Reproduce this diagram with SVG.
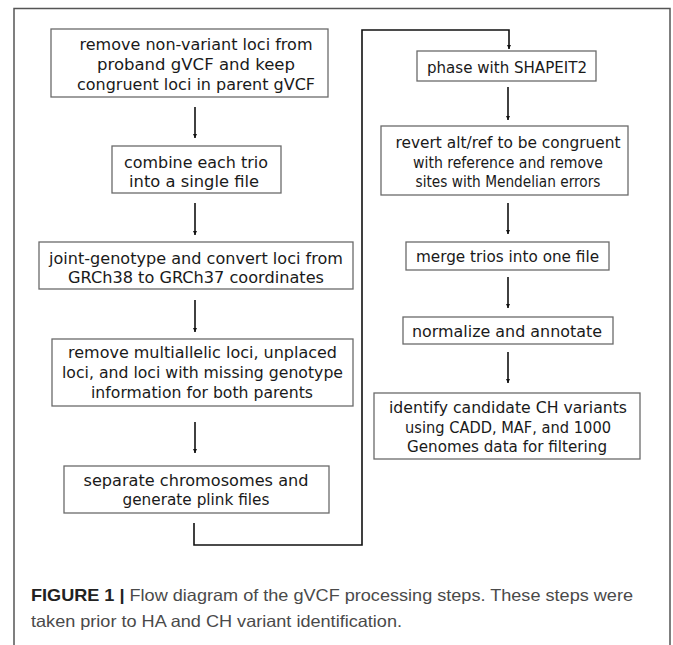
<svg xmlns="http://www.w3.org/2000/svg" width="673" height="645" viewBox="0 0 673 645">
<style>
.box{fill:#fff;stroke:#6a6a6a;stroke-width:1.3}
.t{font-family:"DejaVu Sans",sans-serif;font-size:15px;fill:#1a1a1a;text-anchor:middle}
.arr{stroke:#111;stroke-width:1.6;fill:none}
.cap{font-family:"Liberation Sans",Arial,sans-serif;font-size:16.5px;fill:#4a4a4a}
</style>
<defs>
<marker id="ah" viewBox="0 0 10 10" refX="10" refY="5" markerWidth="4" markerHeight="4" markerUnits="userSpaceOnUse" orient="auto">
<path d="M0,0 L10,5 L0,10 z" fill="#111"/>
</marker>
</defs>
<rect x="0" y="0" width="673" height="645" fill="#fff"/>
<path d="M14,645 V8.5 H670 V645" fill="none" stroke="#555" stroke-width="1.5"/>

<g id="n1"><rect class="box" x="51" y="29" width="277" height="68"/>
<text class="t" x="196" y="50" textLength="233" lengthAdjust="spacingAndGlyphs">remove non-variant loci from</text>
<text class="t" x="196" y="70" textLength="198" lengthAdjust="spacingAndGlyphs">proband gVCF and keep</text>
<text class="t" x="196" y="90" textLength="238" lengthAdjust="spacingAndGlyphs">congruent loci in parent gVCF</text></g>

<g id="n2"><rect class="box" x="112" y="146" width="169" height="47"/>
<text class="t" x="196" y="168" textLength="144" lengthAdjust="spacingAndGlyphs">combine each trio</text>
<text class="t" x="194" y="187" textLength="130" lengthAdjust="spacingAndGlyphs">into a single file</text></g>

<g id="n3"><rect class="box" x="39" y="242" width="314" height="47"/>
<text class="t" x="196" y="264" textLength="294" lengthAdjust="spacingAndGlyphs">joint-genotype and convert loci from</text>
<text class="t" x="196" y="283" textLength="256" lengthAdjust="spacingAndGlyphs">GRCh38 to GRCh37 coordinates</text></g>

<g id="n4"><rect class="box" x="52" y="339" width="301" height="67"/>
<text class="t" x="202.5" y="358" textLength="269" lengthAdjust="spacingAndGlyphs">remove multiallelic loci, unplaced</text>
<text class="t" x="202.5" y="378" textLength="281" lengthAdjust="spacingAndGlyphs">loci, and loci with missing genotype</text>
<text class="t" x="202" y="398" textLength="222" lengthAdjust="spacingAndGlyphs">information for both parents</text></g>

<g id="n5"><rect class="box" x="64" y="466" width="265" height="47"/>
<text class="t" x="196" y="486" textLength="225" lengthAdjust="spacingAndGlyphs">separate chromosomes and</text>
<text class="t" x="196" y="505" textLength="147" lengthAdjust="spacingAndGlyphs">generate plink files</text></g>

<g id="n6"><rect class="box" x="417" y="51" width="179" height="30"/>
<text class="t" x="507" y="73" textLength="160" lengthAdjust="spacingAndGlyphs">phase with SHAPEIT2</text></g>

<g id="n7"><rect class="box" x="381" y="126" width="247" height="69"/>
<text class="t" x="508" y="148" textLength="225" lengthAdjust="spacingAndGlyphs">revert alt/ref to be congruent</text>
<text class="t" x="508" y="168" textLength="190" lengthAdjust="spacingAndGlyphs">with reference and remove</text>
<text class="t" x="508" y="187" textLength="185" lengthAdjust="spacingAndGlyphs">sites with Mendelian errors</text></g>

<g id="n8"><rect class="box" x="406" y="242" width="203" height="28"/>
<text class="t" x="507.5" y="262" textLength="183" lengthAdjust="spacingAndGlyphs">merge trios into one file</text></g>

<g id="n9"><rect class="box" x="403" y="317" width="210" height="27"/>
<text class="t" x="507" y="337" textLength="190" lengthAdjust="spacingAndGlyphs">normalize and annotate</text></g>

<g id="n10"><rect class="box" x="374" y="393" width="266" height="66"/>
<text class="t" x="508" y="413" textLength="238" lengthAdjust="spacingAndGlyphs">identify candidate CH variants</text>
<text class="t" x="508" y="433" textLength="206" lengthAdjust="spacingAndGlyphs">using CADD, MAF, and 1000</text>
<text class="t" x="507" y="452" textLength="200" lengthAdjust="spacingAndGlyphs">Genomes data for filtering</text></g>

<g id="connectors">
<line class="arr" x1="195" y1="107" x2="195" y2="138" marker-end="url(#ah)"/>
<line class="arr" x1="195" y1="203" x2="195" y2="235" marker-end="url(#ah)"/>
<line class="arr" x1="195" y1="300" x2="195" y2="332" marker-end="url(#ah)"/>
<line class="arr" x1="195" y1="422" x2="195" y2="453" marker-end="url(#ah)"/>
<path class="arr" d="M194,523 V545 H362 V30 H509 V49" stroke-width="2.2" marker-end="url(#ah)"/>
<line class="arr" x1="508" y1="87" x2="508" y2="120" marker-end="url(#ah)"/>
<line class="arr" x1="508" y1="203" x2="508" y2="234" marker-end="url(#ah)"/>
<line class="arr" x1="508" y1="277" x2="508" y2="308" marker-end="url(#ah)"/>
<line class="arr" x1="508" y1="352" x2="508" y2="383" marker-end="url(#ah)"/>
</g>

<text class="cap" x="31" y="601" textLength="602" lengthAdjust="spacingAndGlyphs"><tspan font-weight="bold" fill="#222">FIGURE 1 |</tspan> Flow diagram of the gVCF processing steps. These steps were</text>
<text class="cap" x="31" y="627" textLength="371" lengthAdjust="spacingAndGlyphs">taken prior to HA and CH variant identification.</text>
</svg>
